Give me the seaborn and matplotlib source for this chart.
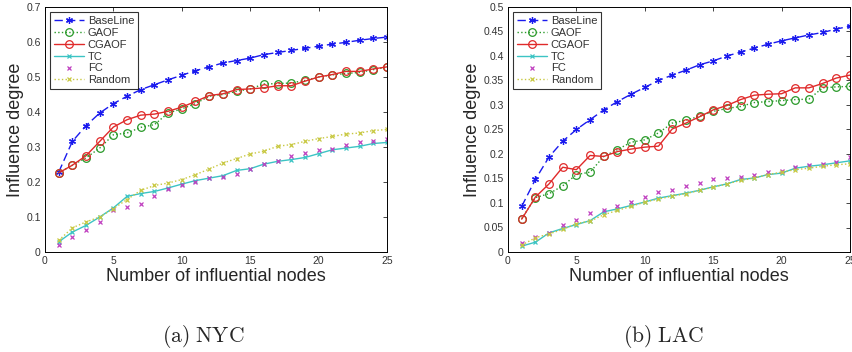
import matplotlib
matplotlib.use("Agg")
import matplotlib.pyplot as plt
import seaborn as sns
import pandas as pd
import numpy as np

nodes = list(range(1, 26))
methods = ['BaseLine', 'GAOF', 'CGAOF', 'TC', 'FC', 'Random']

# (a) NYC
nyc_baseline = [0.228, 0.316, 0.361, 0.397, 0.424, 0.445, 0.464, 0.478, 0.492, 0.505, 0.518, 0.529, 0.540,
                0.547, 0.554, 0.564, 0.570, 0.576, 0.582, 0.588, 0.594, 0.599, 0.605, 0.610, 0.614]
nyc_gaof = [0.226, 0.248, 0.269, 0.297, 0.335, 0.340, 0.356, 0.364, 0.397, 0.409, 0.424, 0.445, 0.450,
            0.459, 0.466, 0.480, 0.481, 0.483, 0.490, 0.500, 0.506, 0.510, 0.513, 0.521, 0.528]
nyc_cgaof = [0.226, 0.248, 0.275, 0.316, 0.357, 0.378, 0.391, 0.394, 0.402, 0.414, 0.430, 0.447, 0.452,
             0.464, 0.466, 0.469, 0.475, 0.475, 0.488, 0.500, 0.507, 0.516, 0.516, 0.523, 0.529]
nyc_tc = [0.029, 0.057, 0.076, 0.100, 0.126, 0.159, 0.167, 0.173, 0.183, 0.194, 0.204, 0.211, 0.218,
          0.233, 0.238, 0.251, 0.259, 0.264, 0.270, 0.281, 0.292, 0.297, 0.302, 0.310, 0.313]
nyc_fc = [0.021, 0.043, 0.062, 0.086, 0.121, 0.129, 0.138, 0.159, 0.180, 0.190, 0.200, 0.211, 0.214,
          0.223, 0.237, 0.252, 0.259, 0.275, 0.283, 0.292, 0.294, 0.307, 0.313, 0.317, 0.324]
nyc_random = [0.033, 0.069, 0.086, 0.100, 0.124, 0.150, 0.176, 0.190, 0.197, 0.207, 0.221, 0.237, 0.254,
              0.267, 0.280, 0.288, 0.302, 0.307, 0.316, 0.324, 0.330, 0.337, 0.340, 0.347, 0.350]

# (b) LAC
lac_baseline = [0.093, 0.148, 0.194, 0.226, 0.250, 0.270, 0.290, 0.307, 0.322, 0.336, 0.350, 0.361, 0.371,
                0.382, 0.390, 0.400, 0.408, 0.416, 0.424, 0.431, 0.437, 0.443, 0.448, 0.455, 0.461]
lac_gaof = [0.068, 0.111, 0.119, 0.135, 0.158, 0.163, 0.195, 0.209, 0.224, 0.229, 0.243, 0.263, 0.269,
            0.277, 0.287, 0.293, 0.297, 0.305, 0.307, 0.309, 0.311, 0.312, 0.335, 0.337, 0.338]
lac_cgaof = [0.067, 0.112, 0.139, 0.173, 0.168, 0.197, 0.195, 0.205, 0.210, 0.214, 0.216, 0.251, 0.263,
             0.276, 0.290, 0.299, 0.311, 0.320, 0.322, 0.323, 0.335, 0.335, 0.344, 0.355, 0.361]
lac_tc = [0.012, 0.020, 0.039, 0.048, 0.056, 0.064, 0.082, 0.088, 0.095, 0.102, 0.110, 0.115, 0.120,
          0.126, 0.133, 0.139, 0.148, 0.151, 0.158, 0.161, 0.171, 0.175, 0.178, 0.182, 0.186]
lac_fc = [0.018, 0.030, 0.039, 0.056, 0.066, 0.080, 0.085, 0.093, 0.102, 0.112, 0.122, 0.126, 0.134,
          0.141, 0.148, 0.151, 0.154, 0.158, 0.163, 0.165, 0.173, 0.177, 0.180, 0.184, 0.194]
lac_random = [0.014, 0.029, 0.037, 0.046, 0.058, 0.063, 0.076, 0.085, 0.093, 0.102, 0.108, 0.114, 0.119,
              0.126, 0.132, 0.139, 0.146, 0.151, 0.158, 0.163, 0.168, 0.171, 0.175, 0.178, 0.180]

sns.set_style("white")
plt.rcParams['font.family'] = ['Liberation Sans', 'DejaVu Sans']
plt.rcParams['mathtext.fontset'] = 'cm'

styles = {
    'BaseLine': dict(color='#1a1aee', linestyle=(0, (6, 3)), marker=(6, 2, 0), markersize=5),
    'GAOF': dict(color='#2a9a2a', linestyle=':', marker='o', markersize=5.5, mfc='none'),
    'CGAOF': dict(color='#e02a2a', linestyle='-', marker='o', markersize=5.5, mfc='none'),
    'TC': dict(color='#3cc4c4', linestyle='-', marker='x', markersize=3),
    'FC': dict(color='#c040c0', linestyle='None', marker='x', markersize=3),
    'Random': dict(color='#c8c840', linestyle=':', marker='x', markersize=3),
}

fig = plt.figure(figsize=(8.52, 3.52), dpi=100)
ax1 = fig.add_axes([45 / 852, 100 / 352, 342 / 852, 245 / 352])
ax2 = fig.add_axes([508 / 852, 100 / 352, 342 / 852, 245 / 352])

panels = [
    (ax1, [nyc_baseline, nyc_gaof, nyc_cgaof, nyc_tc, nyc_fc, nyc_random], 0.7, 0.1),
    (ax2, [lac_baseline, lac_gaof, lac_cgaof, lac_tc, lac_fc, lac_random], 0.5, 0.05),
]

for ax, series, ymax, ystep in panels:
    for name, vals in zip(methods, series):
        df = pd.DataFrame({'nodes': nodes, 'value': vals})
        st = styles[name]
        sns.lineplot(data=df, x='nodes', y='value', ax=ax, label=name, lw=1.0,
                     mec=st['color'], mew=0.9, **st)
    ticks = np.round(np.arange(0, ymax + 1e-9, ystep), 2)
    ax.set_xlim(0, 25)
    ax.set_ylim(0, ymax)
    ax.set_xticks([0, 5, 10, 15, 20, 25])
    ax.set_yticks(ticks)
    ax.set_yticklabels([f'{t:g}' for t in ticks])
    ax.tick_params(direction='in', top=True, right=True, labelsize=7.5, labelcolor='#333333',
                   length=3, width=0.6, pad=3)
    for s in ax.spines.values():
        s.set_linewidth(0.7)
        s.set_color('black')
    ax.set_xlabel('Number of influential nodes', fontsize=13, labelpad=1)
    ax.set_ylabel('Influence degree', fontsize=13, labelpad=2)
    leg = ax.legend(loc='upper left', fontsize=8, frameon=True, fancybox=False, edgecolor='black',
                    handlelength=2.7, borderaxespad=0.45, labelspacing=0.17, handletextpad=0.35,
                    borderpad=0.35)
    leg.get_frame().set_linewidth(0.8)
    for t in leg.get_texts():
        t.set_color('#333333')

fig.text(203 / 852, 1 - 337 / 352, r'$\mathrm{(a)\ NYC}$', ha='center', va='center', fontsize=15.5)
fig.text(663 / 852, 1 - 337 / 352, r'$\mathrm{(b)\ LAC}$', ha='center', va='center', fontsize=15.5)

fig.savefig('out.png', dpi=100)
